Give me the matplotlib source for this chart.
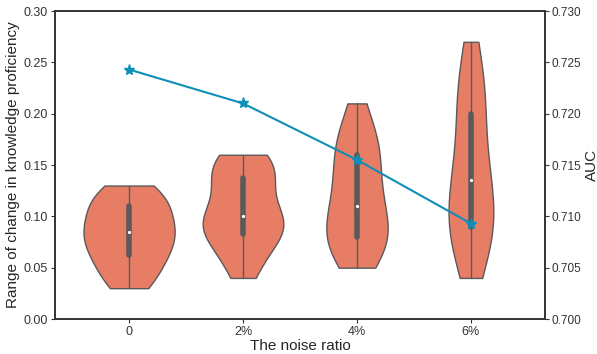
import matplotlib
matplotlib.use("Agg")
import matplotlib.pyplot as plt
import seaborn as sns
import pandas as pd

categories = ["0", "2%", "4%", "6%"]
auc = [0.7243, 0.7210, 0.7155, 0.7093]

v0 = [0.03, 0.035, 0.042, 0.05, 0.056, 0.062, 0.066, 0.07, 0.075, 0.08, 0.085,
      0.088, 0.09, 0.095, 0.10, 0.11, 0.112, 0.115, 0.12, 0.125, 0.13]
v1 = [0.04, 0.05, 0.06, 0.07, 0.075, 0.08, 0.085, 0.088, 0.09, 0.095, 0.098, 0.10,
      0.105, 0.11, 0.12, 0.13, 0.135, 0.14, 0.145, 0.15, 0.155, 0.158, 0.16]
v2 = [0.05, 0.06, 0.065, 0.07, 0.075, 0.08, 0.085, 0.09, 0.10, 0.105, 0.11,
      0.12, 0.13, 0.14, 0.145, 0.16, 0.165, 0.17, 0.18, 0.19, 0.21]
v3 = [0.04, 0.05, 0.07, 0.08, 0.085, 0.09, 0.095, 0.10, 0.11, 0.12, 0.135,
      0.14, 0.15, 0.16, 0.18, 0.20, 0.21, 0.22, 0.23, 0.25, 0.27]

sns.set_theme(style="ticks")
plt.rcParams["font.family"] = ["Liberation Sans", "DejaVu Sans"]

rows = []
for cat, vals in zip(categories, [v0, v1, v2, v3]):
    rows += [(cat, v) for v in vals]
df = pd.DataFrame(rows, columns=["ratio", "value"])

fig = plt.figure(figsize=(5.97, 3.54), dpi=100)
ax = fig.add_axes([55/597, 1-319/354, 490/597, 308/354])
sns.violinplot(data=df, x="ratio", y="value", order=categories, cut=0,
               inner="box", color="#E67D64", saturation=1, linewidth=1,
               linecolor="#5a5a5a", density_norm="area", width=0.8, ax=ax,
               inner_kws=dict(box_width=4, whis_width=1.0, marker=".",
                              markersize=3, color="#5a5a5a"))
ax.set_ylim(0, 0.30)
ax.set_xlim(-0.65, 3.65)
ax.set_yticks([0, 0.05, 0.10, 0.15, 0.20, 0.25, 0.30])
ax.set_yticklabels(["0.00", "0.05", "0.10", "0.15", "0.20", "0.25", "0.30"])
ax.set_xlabel("The noise ratio", fontsize=11, labelpad=1)
ax.set_ylabel("Range of change in knowledge proficiency", fontsize=11, labelpad=3)
ax.tick_params(labelsize=9, length=3, width=0.8, pad=2, colors="#333333", labelcolor="#333333")
for s in ax.spines.values():
    s.set_color("#333333")
    s.set_linewidth(1.2)

ax2 = ax.twinx()
ax2.plot(range(len(categories)), auc, color="#0E8FB8", lw=1.5, marker="*", ms=8)
ax2.set_ylim(0.700, 0.730)
ax2.set_yticks([0.700, 0.705, 0.710, 0.715, 0.720, 0.725, 0.730])
ax2.set_yticklabels(["0.700", "0.705", "0.710", "0.715", "0.720", "0.725", "0.730"])
ax2.set_ylabel("AUC", fontsize=11, labelpad=2)
ax2.tick_params(labelsize=8.5, length=3, width=0.8, pad=2, colors="#333333", labelcolor="#333333")
for s in ax2.spines.values():
    s.set_color("#333333")
    s.set_linewidth(1.2)

fig.savefig("out.png", dpi=100)
